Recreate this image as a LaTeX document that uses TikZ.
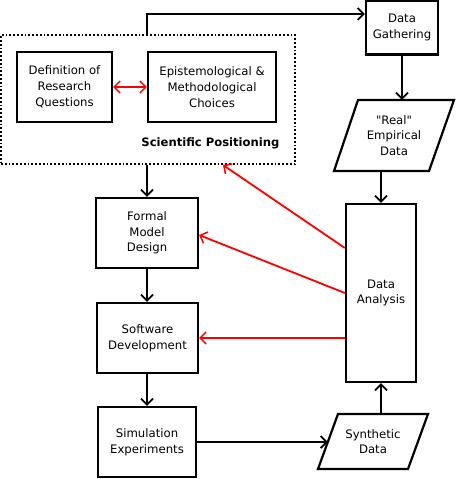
\documentclass[tikz,border=0pt]{standalone}
\usepackage{fontspec}
\setmainfont{DejaVu Sans}[Ligatures=TeXOff]
\usetikzlibrary{arrows.meta,calc}
\begin{document}
\begin{tikzpicture}[x=1pt,y=-1pt,
  font=\fontsize{11.7}{15.7}\selectfont,
  box/.style={draw,line width=2.2pt,align=center,inner sep=0pt},
  arr/.style={line width=2.2pt,-{Straight Barb[length=6pt,width=12pt,line width=1.8pt]}},
  rarr/.style={red,line width=1.8pt,-{Straight Barb[length=6pt,width=12pt,line width=1.5pt]}},
  para/.style={draw,line width=2.2pt,line join=miter}]
\useasboundingbox (0,0) rectangle (455,479);
% scientific positioning frame
\node[draw,dotted,line width=1.8pt,minimum width=294pt,minimum height=129pt,inner sep=0pt] (sp) at (148,99.5) {};
\node[font=\fontsize{11.6}{13}\selectfont\bfseries,anchor=east] (spl) at (283,143) {Scientific Positioning};
\node[box,minimum width=95pt,minimum height=70pt] (def) at (64.5,87) {Definition of\\Research\\Questions};
\node[box,minimum width=128pt,minimum height=70pt] (epi) at (212,87) {Epistemological \&\\Methodological\\Choices};
\draw[red,line width=1.8pt,{Straight Barb[length=6pt,width=12pt,line width=1.5pt]}-{Straight Barb[length=6pt,width=12pt,line width=1.5pt]}] (def.east) -- (epi.west);
% right column
\node[box,minimum width=72pt,minimum height=54pt] (dg) at (402,27.5) {Data\\Gathering};
\draw[para] (358,100) -- (454,100) -- (429,171) -- (334,171) -- cycle;
\node[align=center,minimum height=71pt,inner sep=0pt] (real) at (394,135.5) {"Real"\\Empirical\\Data};
\node[box,minimum width=70pt,minimum height=178pt] (da) at (381,293) {Data\\Analysis};
\draw[para] (338,414) -- (428,414) -- (408,469) -- (318,469) -- cycle;
\node[align=center,minimum height=55pt,inner sep=0pt] (syn) at (373,441.5) {Synthetic\\Data};
\coordinate (synl) at (328,442);
% left column
\node[box,minimum width=102pt,minimum height=70pt] (fmd) at (147,233) {Formal\\Model\\Design};
\node[box,minimum width=101pt,minimum height=70pt] (swd) at (147.5,338) {Software\\Development};
\node[box,minimum width=98pt,minimum height=70pt] (sim) at (147,442) {Simulation\\Experiments};
% black connectors
\draw[arr] (sp.north -| 147,0) -- (147,14) -- (dg.west |- 0,14);
\draw[arr] (dg.south) -- (dg.south |- real.north);
\draw[arr] (da.north |- real.south) -- (da.north);
\draw[arr] (sp.south -| fmd.north) -- (fmd.north);
\draw[arr] (fmd.south) -- (swd.north -| fmd.south);
\draw[arr] (swd.south -| sim.north) -- (sim.north);
\draw[arr] (sim.east) -- (synl);
\draw[arr] (da.south |- syn.north) -- (da.south);
% red feedback
\draw[rarr] (da.west |- 0,248) -- (223,165);
\draw[rarr] (da.west |- 0,293) -- (fmd.east |- 0,235);
\draw[rarr] (da.west |- 0,338) -- (swd.east);
\end{tikzpicture}
\end{document}
